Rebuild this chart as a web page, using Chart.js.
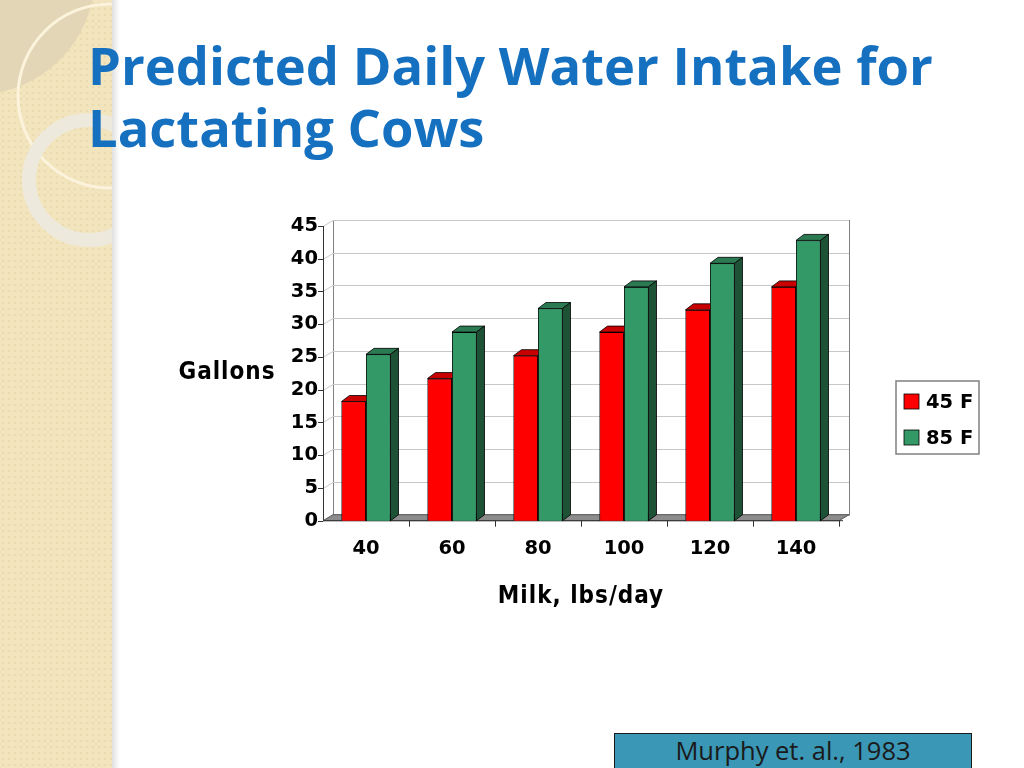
<!DOCTYPE html>
<html>
<head>
<meta charset="utf-8">
<script src="https://cdn.jsdelivr.net/npm/chart.js@4/dist/chart.umd.min.js"></script>
<style>
  html, body { margin: 0; padding: 0; }
  body { width: 1024px; height: 768px; position: relative; overflow: hidden; background: #fff; }
  #deco { position: absolute; left: 0; top: 0; }
  .title {
    position: absolute; left: 88px; top: 34px; margin: 0;
    font-family: "Open Sans", "Noto Sans", sans-serif; font-weight: 700;
    font-size: 52.5px; line-height: 62px; color: #1670C0;
  }
  #wrap { position: absolute; left: 160px; top: 200px; width: 840px; height: 440px; }
  .cite {
    position: absolute; left: 614px; top: 733px; width: 358px; height: 40px;
    background: #3A97B6; border: 1px solid #1a1a1a; box-sizing: border-box;
    font-family: "Open Sans", "Noto Sans", sans-serif; font-size: 25.5px; color: #1a1a1a;
    text-align: center; line-height: 33px;
  }
</style>
</head>
<body>
<svg id="deco" width="130" height="768">
  <defs>
    <pattern id="dots" width="6" height="6" patternUnits="userSpaceOnUse">
      <rect width="6" height="6" fill="#F2E4BC"/>
      <circle cx="3" cy="3" r="1.1" fill="#E8D8AC"/>
    </pattern>
    <linearGradient id="shade" x1="0" x2="1" y1="0" y2="0">
      <stop offset="0" stop-color="#000" stop-opacity="0.12"/>
      <stop offset="1" stop-color="#000" stop-opacity="0"/>
    </linearGradient>
    <clipPath id="strip"><rect x="0" y="0" width="112" height="768"/></clipPath>
  </defs>
  <rect x="0" y="0" width="112" height="768" fill="url(#dots)"/>
  <rect x="112" y="0" width="8" height="768" fill="url(#shade)"/>
  <g clip-path="url(#strip)">
    <circle cx="-25" cy="-25" r="120" fill="#E2D6B6"/>
    <circle cx="110" cy="96" r="92" fill="none" stroke="#FBF3DC" stroke-width="3"/>
    <circle cx="89" cy="180" r="60" fill="none" stroke="#EDE9DC" stroke-width="14"/>
  </g>
</svg>

<h1 class="title">Predicted Daily Water Intake for<br>Lactating Cows</h1>

<div id="wrap"><canvas id="waterChart" width="840" height="440"></canvas></div>

<div class="cite">Murphy et. al., 1983</div>

<script>
// data
const milkLevels = ['40', '60', '80', '100', '120', '140'];
const intake45F = [18.2, 21.7, 25.2, 28.8, 32.2, 35.7];
const intake85F = [25.4, 28.8, 32.4, 35.7, 39.3, 42.8];
const seriesNames = ['45 F', '85 F'];
const gallonTicks = [0, 5, 10, 15, 20, 25, 30, 35, 40, 45];

const tickFont = { family: '"DejaVu Sans", sans-serif', size: 19.5, weight: 'bold' };

// depth of the fake 3D walls and bars
const WALL_DX = 10, WALL_DY = -6;
const BAR_DX = 8, BAR_DY = -6;

const faceColors = [
    { top: '#C80000', side: '#8A0000' },
    { top: '#2B7A52', side: '#1E5236' }
];

const box3d = {
    id: 'box3d',
    beforeDatasetsDraw(chart) {
        const ctx = chart.ctx;
        const a = chart.chartArea;
        const y = chart.scales.y;
        ctx.save();
        // back wall
        ctx.strokeStyle = '#808080';
        ctx.lineWidth = 1;
        ctx.strokeRect(a.left + WALL_DX + 0.5, a.top + WALL_DY + 0.5, a.right - a.left, a.bottom - a.top);
        // grid lines on back wall and left wall
        gallonTicks.forEach(v => {
            const py = Math.round(y.getPixelForValue(v)) + 0.5;
            ctx.strokeStyle = '#C8C8C8';
            ctx.beginPath();
            ctx.moveTo(a.left, py);
            ctx.lineTo(a.left + WALL_DX, py + WALL_DY);
            ctx.lineTo(a.right + WALL_DX, py + WALL_DY);
            ctx.stroke();
        });
        // floor
        ctx.fillStyle = '#8C8C8C';
        ctx.strokeStyle = '#555';
        ctx.beginPath();
        ctx.moveTo(a.left, a.bottom);
        ctx.lineTo(a.left + WALL_DX, a.bottom + WALL_DY);
        ctx.lineTo(a.right + WALL_DX, a.bottom + WALL_DY);
        ctx.lineTo(a.right, a.bottom);
        ctx.closePath();
        ctx.fill();
        ctx.stroke();
        // front axes
        ctx.strokeStyle = '#333';
        ctx.beginPath();
        ctx.moveTo(a.left + 0.5, a.top);
        ctx.lineTo(a.left + 0.5, a.bottom);
        ctx.lineTo(a.right + 4, a.bottom);
        ctx.stroke();
        gallonTicks.forEach(v => {
            const py = Math.round(y.getPixelForValue(v)) + 0.5;
            ctx.beginPath();
            ctx.moveTo(a.left - 5, py);
            ctx.lineTo(a.left, py);
            ctx.stroke();
        });
        const step = (a.right - a.left) / milkLevels.length;
        for (let i = 1; i <= milkLevels.length; i++) {
            const px = Math.round(a.left + step * i) + 0.5;
            ctx.beginPath();
            ctx.moveTo(px, a.bottom);
            ctx.lineTo(px, a.bottom + 6);
            ctx.stroke();
        }
        ctx.restore();
    },
    afterDatasetsDraw(chart) {
        // Chart.js paints the last dataset first, so repaint front-to-back
        // per series: red bars + faces, then green bars + faces on top
        const ctx = chart.ctx;
        chart.data.datasets.forEach((ds, di) => {
            const meta = chart.getDatasetMeta(di);
            const col = faceColors[di];
            meta.data.forEach(bar => {
                bar.draw(ctx);
                const p = bar.getProps(['x', 'y', 'base', 'width'], true);
                const l = p.x - p.width / 2, r = p.x + p.width / 2;
                ctx.save();
                ctx.strokeStyle = '#000';
                ctx.lineWidth = 0.8;
                // top face
                ctx.fillStyle = col.top;
                ctx.beginPath();
                ctx.moveTo(l, p.y);
                ctx.lineTo(l + BAR_DX, p.y + BAR_DY);
                ctx.lineTo(r + BAR_DX, p.y + BAR_DY);
                ctx.lineTo(r, p.y);
                ctx.closePath();
                ctx.fill();
                ctx.stroke();
                // side face
                ctx.fillStyle = col.side;
                ctx.beginPath();
                ctx.moveTo(r, p.y);
                ctx.lineTo(r + BAR_DX, p.y + BAR_DY);
                ctx.lineTo(r + BAR_DX, p.base + BAR_DY);
                ctx.lineTo(r, p.base);
                ctx.closePath();
                ctx.fill();
                ctx.stroke();
                ctx.restore();
            });
        });
    },
    afterDraw(chart) {
        const ctx = chart.ctx;
        const a = chart.chartArea;
        ctx.save();
        ctx.fillStyle = '#000';
        // axis titles
        ctx.font = 'bold 24px "DejaVu Sans Condensed", "DejaVu Sans", sans-serif';
        ctx.letterSpacing = '1px';
        ctx.textBaseline = 'middle';
        ctx.textAlign = 'center';
        ctx.fillText('Gallons', 67, 173);
        ctx.fillText('Milk, lbs/day', 421, 397);
        ctx.letterSpacing = '0px';
        // legend
        const lx = 736, ly = 181, lw = 83, lh = 73;
        ctx.fillStyle = '#fff';
        ctx.fillRect(lx, ly, lw, lh);
        ctx.strokeStyle = '#808080';
        ctx.lineWidth = 1.5;
        ctx.strokeRect(lx, ly, lw, lh);
        ctx.font = 'bold 19.5px "DejaVu Sans", sans-serif';
        ctx.textAlign = 'left';
        chart.data.datasets.forEach((ds, i) => {
            const cy = ly + 21 + i * 36;
            ctx.fillStyle = ds.backgroundColor;
            ctx.fillRect(lx + 8, cy - 8, 15, 15);
            ctx.strokeStyle = '#000';
            ctx.lineWidth = 0.8;
            ctx.strokeRect(lx + 8, cy - 8, 15, 15);
            ctx.fillStyle = '#000';
            ctx.fillText(ds.label, lx + 30, cy + 1);
        });
        ctx.restore();
    }
};

const ctx = document.getElementById('waterChart').getContext('2d');
const waterChart = new Chart(ctx, {
    type: 'bar',
    data: {
        labels: milkLevels,
        datasets: [
            { label: seriesNames[0], data: intake45F, backgroundColor: '#FF0000', borderColor: '#000', borderWidth: 0.8 },
            { label: seriesNames[1], data: intake85F, backgroundColor: '#339966', borderColor: '#000', borderWidth: 0.8 }
        ]
    },
    options: {
        responsive: false,
        animation: false,
        devicePixelRatio: 1,
        layout: { padding: { left: 0, top: 26, right: 161, bottom: 0 } },
        plugins: { legend: { display: false }, tooltip: { enabled: false } },
        datasets: { bar: { categoryPercentage: 0.57, barPercentage: 1.0 } },
        scales: {
            x: {
                grid: { display: false, drawTicks: false },
                border: { display: false },
                ticks: { color: '#000', font: tickFont, padding: 17, maxRotation: 0 },
                afterFit(scale) { scale.height = 440 - 26 - 294.7; }
            },
            y: {
                min: 0, max: 45,
                grid: { display: false, drawTicks: false },
                border: { display: false },
                ticks: { color: '#000', font: tickFont, stepSize: 5, padding: 5 },
                afterFit(scale) { scale.width = 163; }
            }
        }
    },
    plugins: [box3d]
});
</script>
</body>
</html>
